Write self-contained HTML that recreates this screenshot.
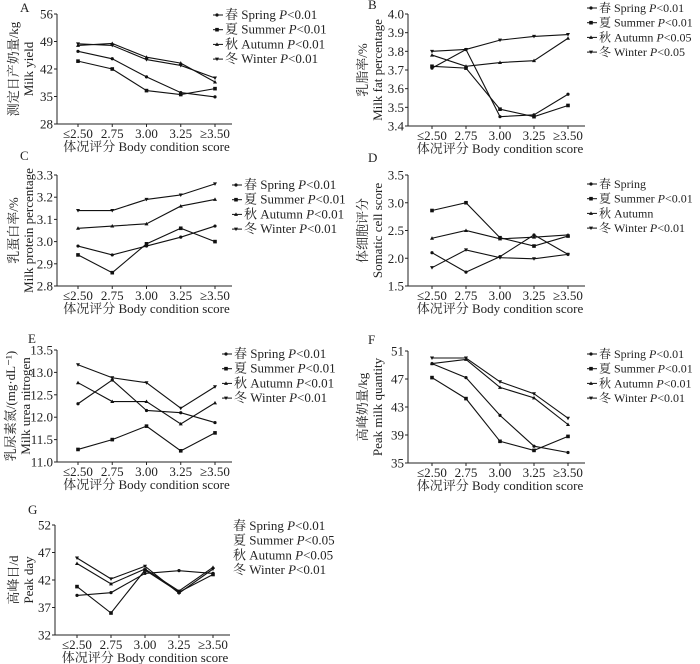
<!DOCTYPE html>
<html><head><meta charset="utf-8"><style>
body{margin:0;background:#fff}
svg{display:block}
text{font-family:"Liberation Serif","Noto Serif CJK SC",serif;fill:#222}
</style></head><body>
<svg id="c" width="700" height="664" viewBox="0 0 700 664" xmlns="http://www.w3.org/2000/svg"></svg>
<script>
const categories=["≤2.50","2.75","3.00","3.25","≥3.50"];
const seriesNames=["春 Spring","夏 Summer","秋 Autumn","冬 Winter"];
const markers=["circle","square","tri-up","tri-down"];
// Panel A
const aTicks=[28,35,42,49,56];
const aSpring=[46.5,44.6,40,36,34.9];
const aSummer=[44,42,36.5,35.5,37];
const aAutumn=[48,48.5,45,43.5,38.7];
const aWinter=[48.4,48,44.4,42.9,39.7];
const aP=["P<0.01","P<0.01","P<0.01","P<0.01"];
// Panel B
const bTicks=[3.4,3.5,3.6,3.7,3.8,3.9,4.0];
const bSpring=[3.71,3.81,3.45,3.46,3.57];
const bSummer=[3.72,3.71,3.49,3.45,3.51];
const bAutumn=[3.78,3.72,3.74,3.75,3.87];
const bWinter=[3.80,3.81,3.86,3.88,3.89];
const bP=["P<0.01","P<0.01","P<0.05","P<0.05"];
// Panel C
const cTicks=[2.8,2.9,3.0,3.1,3.2,3.3];
const cSpring=[2.98,2.94,2.98,3.02,3.07];
const cSummer=[2.94,2.86,2.99,3.06,3.00];
const cAutumn=[3.06,3.07,3.08,3.16,3.19];
const cWinter=[3.14,3.14,3.19,3.21,3.26];
const cP=["P<0.01","P<0.01","P<0.01","P<0.01"];
// Panel D
const dTicks=[1.5,2.0,2.5,3.0,3.5];
const dSpring=[2.10,1.75,2.03,2.42,2.07];
const dSummer=[2.86,3.00,2.37,2.22,2.40];
const dAutumn=[2.36,2.50,2.35,2.38,2.42];
const dWinter=[1.83,2.15,2.01,1.99,2.07];
const dP=["","P<0.01","","P<0.01"];
// Panel E
const eTicks=[11.0,11.5,12.0,12.5,13.0,13.5];
const eSpring=[12.3,12.83,12.15,12.1,11.88];
const eSummer=[11.28,11.5,11.8,11.25,11.65];
const eAutumn=[12.77,12.35,12.35,11.85,12.32];
const eWinter=[13.17,12.88,12.77,12.2,12.68];
const eP=["P<0.01","P<0.01","P<0.01","P<0.01"];
// Panel F
const fTicks=[35,39,43,47,51];
const fSpring=[49.2,47.2,41.8,37.4,36.5];
const fSummer=[47.2,44.2,38.1,36.8,38.8];
const fAutumn=[49.2,49.8,45.8,44.3,40.5];
const fWinter=[50,50,46.6,44.9,41.4];
const fP=["P<0.01","P<0.01","P<0.01","P<0.01"];
// Panel G
const gTicks=[32,37,42,47,52];
const gSpring=[39.2,39.7,43.2,43.7,43.2];
const gSummer=[40.8,36,43.8,39.8,43];
const gAutumn=[45,41.3,44,40,44.3];
const gWinter=[46,42.2,44.5,39.6,44];
const gP=["P<0.01","P<0.05","P<0.05","P<0.01"];

const svg=document.getElementById('c');
const NS="http://www.w3.org/2000/svg";
function mk(tag,at,parent){const e=document.createElementNS(NS,tag);for(const k in at)e.setAttribute(k,at[k]);(parent||svg).appendChild(e);return e;}
function txt(s,x,y,anchor,size,parent){const t=mk('text',{x:x,y:y,'text-anchor':anchor,'font-size':size},parent);t.textContent=s;return t;}
function marker(type,x,y,g){
  if(type==='circle')return mk('circle',{cx:x,cy:y,r:1.6,fill:'#111'},g);
  if(type==='square')return mk('rect',{x:x-1.8,y:y-1.8,width:3.6,height:3.6,fill:'#111'},g);
  if(type==='tri-up')return mk('path',{d:`M${x},${y-2}L${x+2},${y+1.5}L${x-2},${y+1.5}Z`,fill:'#111'},g);
  return mk('path',{d:`M${x},${y+2}L${x+2},${y-1.5}L${x-2},${y-1.5}Z`,fill:'#111'},g);
}
function panel(o){
  const g=mk('g',{});
  
  
  const lo=o.ticks[0],hi=o.ticks[o.ticks.length-1];
  const ys=v=>o.yb-(v-lo)/(hi-lo)*(o.yb-o.yt);
  const xs=i=>o.x0+i*(o.x1-o.x0)/(categories.length-1);
  const pl=txt(o.id,o.lx,o.ly,'start',13,g);
  
  
  const ax=mk('path',{d:`M${o.ax},${o.yt}V${o.yb}H${o.x1+17}`,stroke:'#222',fill:'none','stroke-width':1},g);
  
  
  o.ticks.forEach(t=>{
    const y=ys(t);
    mk('line',{x1:o.ax-3,x2:o.ax,y1:y,y2:y,stroke:'#222'},g);
    const tl=txt(o.fmt(t),o.ax-4,y+4.5,'end',13,g);
    
    
  });
  categories.forEach((c,i)=>{
    mk('line',{x1:xs(i),x2:xs(i),y1:o.yb,y2:o.yb+3,stroke:'#222'},g);
    const tl=txt(c,xs(i),o.yb+14,'middle',13,g);
    
    
  });
  const xt=txt('体况评分 Body condition score',(o.x0+o.x1)/2,o.yb+27,'middle',13,g);
  
  
  const cy=(o.yt+o.yb)/2;
  const t1=txt(o.yt1,0,0,'middle',13,g);t1.setAttribute('transform',`translate(${o.tx},${cy}) rotate(-90)`);
  
  
  const t2=txt(o.yt2,0,0,'middle',13,g);t2.setAttribute('transform',`translate(${o.tx+15},${cy}) rotate(-90)`);
  
  
  o.series.forEach((s,k)=>{
    const pts=s.map((v,i)=>`${xs(i)},${ys(v)}`).join(' ');
    const ln=mk('polyline',{points:pts,fill:'none',stroke:'#111','stroke-width':1.1},g);
    
    
    s.forEach((v,i)=>{const m=marker(markers[k],xs(i),ys(v),g);
      
      });
  });
  o.p.forEach((p,k)=>{
    const y=o.legY+k*14.7;
    const lg=mk('g',{},g);
    
    
    let tx=o.legX;
    if(!o.noMark){mk('line',{x1:o.legX,x2:o.legX+10,y1:y-4,y2:y-4,stroke:'#111'},lg);marker(markers[k],o.legX+4,y-4,lg);tx=o.legX+12;}
    const t=mk('text',{x:tx,y:y,'font-size':o.fs||13},lg);
    t.appendChild(document.createTextNode(seriesNames[k]+(p?' ':'')));
    if(p){const ts=mk('tspan',{'font-style':'italic'},t);ts.textContent='P';t.appendChild(document.createTextNode(p.slice(1)));}
  });
}
const f0=v=>String(v), f1=v=>v.toFixed(1);
panel({id:'A',lx:20,ly:12,ax:57,yt:14,yb:124,x0:78,x1:215,ticks:aTicks,fmt:f0,tx:18,yt1:'测定日产奶量/kg',yt2:'Milk yield',series:[aSpring,aSummer,aAutumn,aWinter],p:aP,legX:213,legY:19});
panel({id:'B',lx:368,ly:9,ax:408,yt:14,yb:126,x0:432,x1:568,ticks:bTicks,fmt:f1,tx:367,yt1:'乳脂率/%',yt2:'Milk fat percentage',series:[bSpring,bSummer,bAutumn,bWinter],p:bP,legX:587,legY:12,fs:12});
panel({id:'C',lx:20,ly:160,ax:57,yt:175,yb:286,x0:78,x1:215,ticks:cTicks,fmt:f1,tx:18,yt1:'乳蛋白率/%',yt2:'Milk protein percentage',series:[cSpring,cSummer,cAutumn,cWinter],p:cP,legX:232,legY:189});
panel({id:'D',lx:368,ly:162,ax:408,yt:175,yb:286,x0:432,x1:568,ticks:dTicks,fmt:f1,tx:367,yt1:'体细胞评分',yt2:'Somatic cell score',series:[dSpring,dSummer,dAutumn,dWinter],p:dP,legX:587,legY:188,fs:12});
panel({id:'E',lx:28,ly:343,ax:57,yt:350,yb:462,x0:78,x1:215,ticks:eTicks,fmt:f1,tx:15,yt1:'乳尿素氮/(mg·dL⁻¹)',yt2:'Milk urea nitrogen',series:[eSpring,eSummer,eAutumn,eWinter],p:eP,legX:222,legY:358});
panel({id:'F',lx:368,ly:344,ax:408,yt:351,yb:463,x0:432,x1:568,ticks:fTicks,fmt:f0,tx:367,yt1:'高峰奶量/kg',yt2:'Peak milk quantity',series:[fSpring,fSummer,fAutumn,fWinter],p:fP,legX:587,legY:358,fs:12});
panel({id:'G',lx:28,ly:514,ax:55,yt:525,yb:635,x0:77,x1:213,ticks:gTicks,fmt:f0,tx:18,yt1:'高峰日/d',yt2:'Peak day',series:[gSpring,gSummer,gAutumn,gWinter],p:gP,legX:233,legY:530,noMark:true});
</script>
</body></html>
